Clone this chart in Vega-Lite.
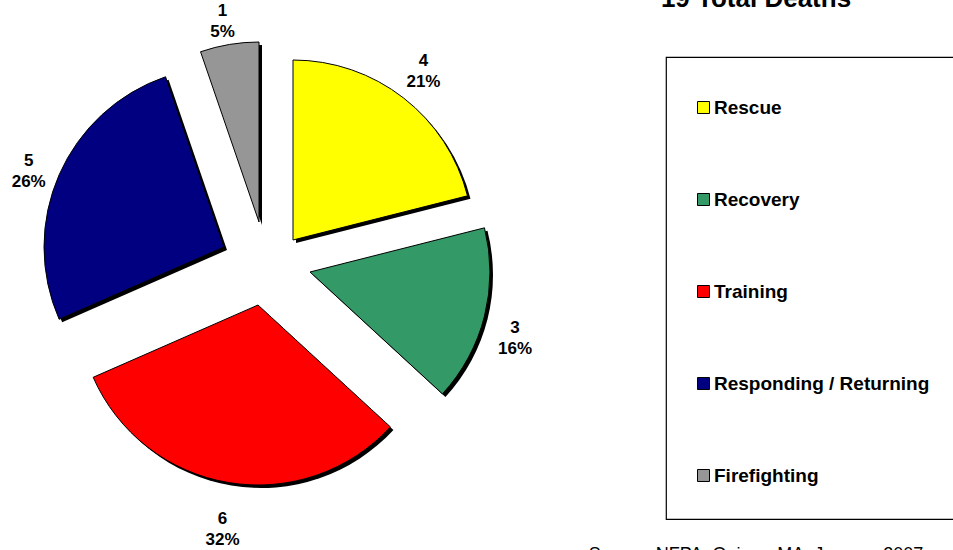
{
  "$schema": "https://vega.github.io/schema/vega-lite/v6.json",
  "autosize": "none",
  "width": 530,
  "height": 550,
  "padding": {"left": 0, "top": 0, "right": 423, "bottom": 0},
  "background": "white",
  "title": {
    "text": "19 Total Deaths",
    "subtitle": "Source: NFPA, Quincy, MA, January 2007",
    "anchor": "middle",
    "frame": "group",
    "dx": 491,
    "dy": 568,
    "font": "Liberation Sans",
    "fontSize": 26,
    "fontWeight": "bold",
    "color": "black",
    "subtitleFont": "Liberation Sans",
    "subtitleFontSize": 18,
    "subtitleFontWeight": "normal",
    "subtitleColor": "black",
    "subtitlePadding": 534
  },
  "data": {
    "values": [
      {"category": "Rescue", "deaths": 4, "share": 0.21, "ord": 1},
      {"category": "Recovery", "deaths": 3, "share": 0.16, "ord": 2},
      {"category": "Training", "deaths": 6, "share": 0.32, "ord": 3},
      {"category": "Responding / Returning", "deaths": 5, "share": 0.26, "ord": 4},
      {"category": "Firefighting", "deaths": 1, "share": 0.05, "ord": 5}
    ]
  },
  "transform": [
    {"stack": "deaths", "groupby": [], "sort": [{"field": "ord", "order": "ascending"}], "as": ["t0", "t1"]}
  ],
  "encoding": {
    "theta": {"field": "t0", "type": "quantitative", "scale": {"domain": [0, 19]}},
    "theta2": {"field": "t1"}
  },
  "layer": [
    {"transform": [{"filter": "datum.category === 'Rescue'"}], "mark": {"type": "arc", "outerRadius": 180, "fill": "black", "xOffset": 31, "yOffset": -32}},
    {"transform": [{"filter": "datum.category === 'Recovery'"}], "mark": {"type": "arc", "outerRadius": 180, "fill": "black", "xOffset": 48, "yOffset": 0}},
    {"transform": [{"filter": "datum.category === 'Training'"}], "mark": {"type": "arc", "outerRadius": 180, "fill": "black", "xOffset": -4, "yOffset": 33}},
    {"transform": [{"filter": "datum.category === 'Responding / Returning'"}], "mark": {"type": "arc", "outerRadius": 180, "fill": "black", "xOffset": -38, "yOffset": -25}},
    {"transform": [{"filter": "datum.category === 'Firefighting'"}], "mark": {"type": "arc", "outerRadius": 180, "fill": "black", "xOffset": -3, "yOffset": -50}},
    {"transform": [{"filter": "datum.category === 'Rescue'"}], "mark": {"type": "arc", "outerRadius": 180, "stroke": "black", "strokeWidth": 1, "xOffset": 28, "yOffset": -35}, "encoding": {"color": {"field": "category", "type": "nominal", "scale": {"domain": ["Rescue", "Recovery", "Training", "Responding / Returning", "Firefighting"], "range": ["#FFFF00", "#339966", "#FF0000", "#000080", "#969696"]}}}},
    {"transform": [{"filter": "datum.category === 'Recovery'"}], "mark": {"type": "arc", "outerRadius": 180, "stroke": "black", "strokeWidth": 1, "xOffset": 45, "yOffset": -3}, "encoding": {"color": {"field": "category", "type": "nominal"}}},
    {"transform": [{"filter": "datum.category === 'Training'"}], "mark": {"type": "arc", "outerRadius": 180, "stroke": "black", "strokeWidth": 1, "xOffset": -7, "yOffset": 30}, "encoding": {"color": {"field": "category", "type": "nominal"}}},
    {"transform": [{"filter": "datum.category === 'Responding / Returning'"}], "mark": {"type": "arc", "outerRadius": 180, "stroke": "black", "strokeWidth": 1, "xOffset": -41, "yOffset": -28}, "encoding": {"color": {"field": "category", "type": "nominal"}}},
    {"transform": [{"filter": "datum.category === 'Firefighting'"}], "mark": {"type": "arc", "outerRadius": 180, "stroke": "black", "strokeWidth": 1, "xOffset": -6, "yOffset": -53}, "encoding": {"color": {"field": "category", "type": "nominal"}}},
    {
      "mark": {"type": "text", "radius": 258, "dx": 0, "dy": -10, "font": "Liberation Sans", "fontSize": 17, "fontWeight": "bold", "color": "black", "baseline": "middle", "align": "center"},
      "encoding": {
        "theta": {"field": "deaths", "type": "quantitative", "stack": true},
        "theta2": null,
        "order": {"field": "ord", "type": "quantitative"},
        "text": {"field": "deaths", "type": "quantitative"}
      }
    },
    {
      "mark": {"type": "text", "radius": 258, "dx": 0, "dy": 11, "font": "Liberation Sans", "fontSize": 17, "fontWeight": "bold", "color": "black", "baseline": "middle", "align": "center"},
      "encoding": {
        "theta": {"field": "deaths", "type": "quantitative", "stack": true},
        "theta2": null,
        "order": {"field": "ord", "type": "quantitative"},
        "text": {"field": "share", "type": "quantitative", "format": ".0%"}
      }
    }
  ],
  "resolve": {"scale": {"color": "shared"}},
  "config": {
    "view": {"stroke": null},
    "legend": {
      "orient": "none",
      "legendX": 666,
      "legendY": 57,
      "padding": 33,
      "titleFontSize": 8,
      "titlePadding": 0,
      "titleColor": "white",
      "strokeColor": "black",
      "strokeWidth": 1.2,
      "fillColor": "white",
      "symbolType": "square",
      "symbolSize": 144,
      "symbolOffset": -5,
      "symbolStrokeColor": "black",
      "symbolStrokeWidth": 1,
      "symbolOpacity": 1,
      "labelFont": "Liberation Sans",
      "labelFontSize": 19,
      "labelFontWeight": "bold",
      "labelColor": "black",
      "labelLimit": 400,
      "labelOffset": 1,
      "rowPadding": 72
    }
  }
}
